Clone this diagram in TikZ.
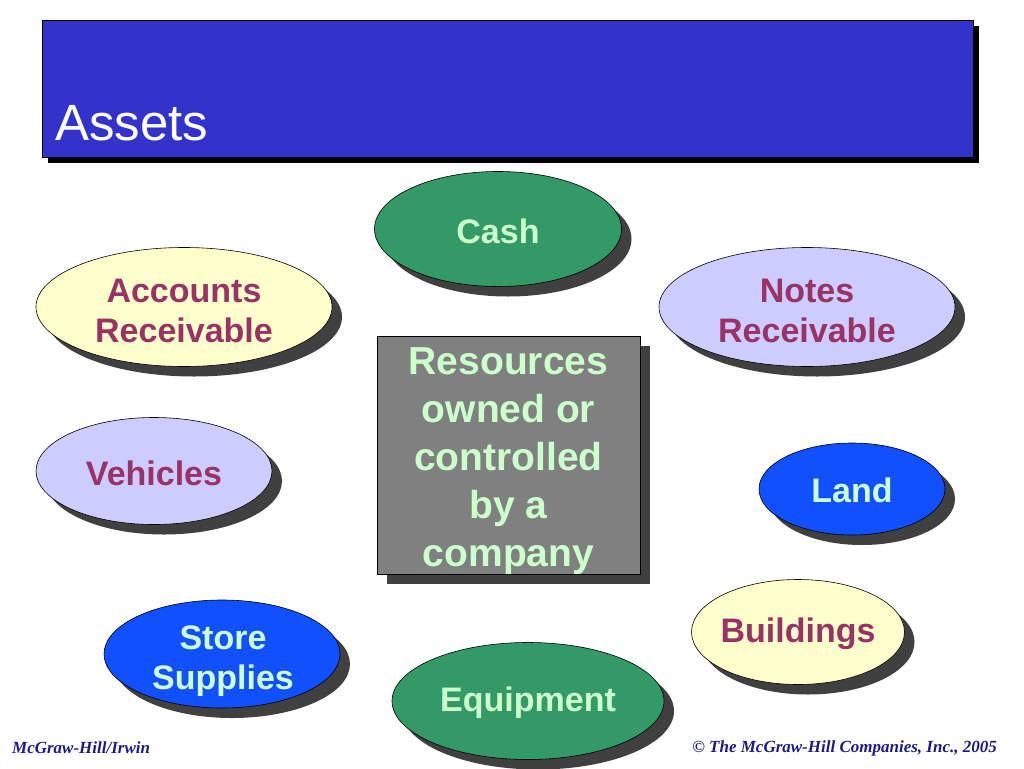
\documentclass[tikz,border=0pt]{standalone}
\usepackage{fontspec}
\setmainfont{Liberation Sans}
\newfontfamily\footfont{Liberation Serif}
\usetikzlibrary{shapes.geometric,shadows}
\definecolor{titleblue}{HTML}{3333CC}
\definecolor{grn}{HTML}{339966}
\definecolor{ltgrn}{HTML}{CCFFCC}
\definecolor{ylw}{HTML}{FFFFCC}
\definecolor{lav}{HTML}{CCCCFF}
\definecolor{vblue}{HTML}{1150FF}
\definecolor{maroon}{HTML}{993366}
\definecolor{shad}{HTML}{404040}
\definecolor{boxgray}{HTML}{808080}
\definecolor{footblue}{HTML}{1A1A8C}
\tikzset{
  asset/.style={ellipse, draw=black, line width=0.6pt, inner sep=0pt,
    drop shadow={shadow xshift=10pt, shadow yshift=-10pt, fill=shad, opacity=1}},
  lbl/.style={align=center, inner sep=0pt, font=\fontsize{34}{40}\selectfont\bfseries},
  darktext/.style={lbl, text=ltgrn},
  lighttext/.style={lbl, text=maroon},
  foot/.style={font=\footfont\fontsize{17}{20}\selectfont\bfseries\itshape, text=footblue, inner sep=0pt}
}
\begin{document}
\begin{tikzpicture}[x=1pt,y=-1pt]
\useasboundingbox (0,0) rectangle (1024,768);
% title bar
\fill[black] (48,26) rectangle (979,163);
\node[draw=black, fill=titleblue, minimum width=931pt, minimum height=137pt, inner sep=0pt, anchor=north west] (title) at (42,20) {};
\node[anchor=base west, text=white, inner sep=0pt, font=\fontsize{51}{60}\selectfont] (titletext) at (55,140) {Assets};
% center box
\node[draw=black, fill=boxgray, minimum width=263pt, minimum height=238pt, inner sep=0pt,
  drop shadow={shadow xshift=10pt, shadow yshift=-10pt, fill=shad, opacity=1}] (res) at (508.5,455) {};
\node[align=center, text=ltgrn, font=\fontsize{39}{48}\selectfont\bfseries] (restext) at ([yshift=-6pt]res.center) {Resources\\owned or\\controlled\\by a\\company};
% ellipses
\node[asset, fill=grn, minimum width=247pt, minimum height=115pt] (cash) at (498,229) {};
\node[asset, fill=ylw, minimum width=296pt, minimum height=119pt] (ar) at (184,307) {};
\node[asset, fill=lav, minimum width=296pt, minimum height=119pt] (nr) at (807,307) {};
\node[asset, fill=lav, minimum width=236pt, minimum height=107pt] (veh) at (154,471) {};
\node[asset, fill=vblue, minimum width=186pt, minimum height=92pt] (land) at (852,489) {};
\node[asset, fill=ylw, minimum width=213pt, minimum height=105pt] (bld) at (798,632) {};
\node[asset, fill=vblue, minimum width=236pt, minimum height=108pt] (ss) at (222,654) {};
\node[asset, fill=grn, minimum width=272pt, minimum height=117pt] (eq) at (528,701) {};
\node[darktext] (cashtext) at ([yshift=-2pt]cash.center) {Cash};
\node[lighttext] (artext) at ([yshift=-4pt]ar.center) {Accounts\\Receivable};
\node[lighttext] (nrtext) at ([yshift=-4pt]nr.center) {Notes\\Receivable};
\node[lighttext] (vehtext) at ([yshift=-2pt]veh.center) {Vehicles};
\node[darktext] (landtext) at ([yshift=-1pt]land.center) {Land};
\node[lighttext] (bldtext) at ([yshift=-2pt]bld.center) {Buildings};
\node[darktext] (sstext) at ([xshift=1pt,yshift=-7pt]ss.center) {Store\\Supplies};
\node[darktext] (eqtext) at ([yshift=-2pt]eq.center) {Equipment};
% footer
\node[foot, anchor=base west] (f1) at (12,753) {McGraw-Hill/Irwin};
\node[foot, anchor=base east] (f2) at (997,752) {\textcopyright\ The McGraw-Hill Companies, Inc., 2005};
\end{tikzpicture}
\end{document}
